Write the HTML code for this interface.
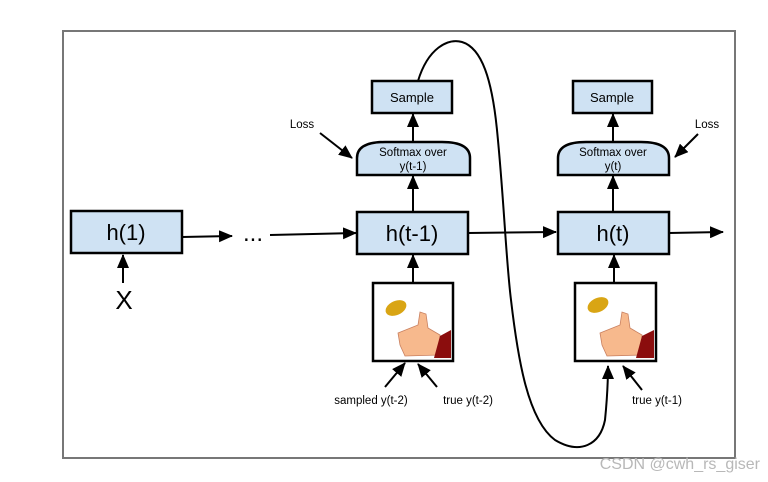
<!DOCTYPE html>
<html><head><style>html,body{margin:0;padding:0;background:#fff}svg{display:block}</style></head>
<body>
<svg width="768" height="482" xmlns="http://www.w3.org/2000/svg" font-family="Liberation Sans, Arial, sans-serif">
<defs><marker id="b" markerWidth="14" markerHeight="12" refX="13" refY="6" orient="auto" markerUnits="userSpaceOnUse"><path d="M0,0 L14,6 L0,12 z" fill="#000"/></marker></defs>
<rect x="63" y="31" width="672" height="427" fill="none" stroke="#777" stroke-width="2"/>
<g stroke="#000" stroke-width="2.5" fill="#cfe2f3">
<rect x="71" y="211" width="111" height="42"/>
<rect x="357" y="212" width="111" height="42"/>
<rect x="558" y="212" width="111" height="42"/>
<rect x="372" y="81" width="80" height="32"/>
<rect x="573" y="81" width="79" height="32"/>
<path d="M357,175 L357,158 Q357,142 385,142 L442,142 Q470,142 470,158 L470,175 Z"/>
<path d="M558,175 L558,158 Q558,142 586,142 L641,142 Q669,142 669,158 L669,175 Z"/>
</g>
<g font-size="22" text-anchor="middle" fill="#000">
<text x="126" y="240">h(1)</text><text x="412" y="241">h(t-1)</text><text x="613" y="241">h(t)</text>
<text x="124" y="309" font-size="26">X</text>
<text x="253" y="241" font-size="24">...</text>
</g>
<g font-size="13" text-anchor="middle" fill="#000">
<text x="412" y="102">Sample</text><text x="612" y="102">Sample</text>
<text x="413" y="156" font-size="11.5">Softmax over</text><text x="413" y="170" font-size="11.5">y(t-1)</text>
<text x="613" y="156" font-size="11.5">Softmax over</text><text x="613" y="170" font-size="11.5">y(t)</text>
<text x="302" y="128" font-size="11.5">Loss</text><text x="707" y="128" font-size="11.5">Loss</text>
<text x="371" y="404" font-size="11.5">sampled y(t-2)</text><text x="468" y="404" font-size="11.5">true y(t-2)</text>
<text x="657" y="404" font-size="11.5">true y(t-1)</text>
</g>
<g stroke="#000" stroke-width="2" fill="none" marker-end="url(#b)">
<line x1="182" y1="237" x2="232" y2="236"/>
<line x1="270" y1="235" x2="356" y2="233"/>
<line x1="468" y1="233" x2="556" y2="232"/>
<line x1="669" y1="233" x2="723" y2="232"/>
<line x1="123" y1="283" x2="123" y2="255"/>
<line x1="413" y1="212" x2="413" y2="176"/>
<line x1="413" y1="142" x2="413" y2="114"/>
<line x1="613" y1="212" x2="613" y2="176"/>
<line x1="613" y1="142" x2="613" y2="114"/>
<line x1="413" y1="283" x2="413" y2="255"/>
<line x1="614" y1="283" x2="614" y2="255"/>
<line x1="320" y1="133" x2="352" y2="158"/>
<line x1="698" y1="134" x2="675" y2="157"/>
<line x1="385" y1="387" x2="405" y2="363"/>
<line x1="437" y1="387" x2="418" y2="364"/>
<line x1="642" y1="390" x2="623" y2="366"/>
<path d="M418,81 C428,48 448,38 462,42 C482,48 492,80 497,130 C504,200 506,260 511,300 C518,360 528,420 555,440 C580,455 600,445 605,420 C607,400 608,385 608,366"/>
</g>
<g stroke="#000" stroke-width="2.5" fill="#fff">
<rect x="373" y="283" width="80" height="78"/>
<rect x="575" y="283" width="81" height="78"/>
</g>
<g>
<ellipse cx="396" cy="308" rx="11" ry="7" fill="#d9a514" transform="rotate(-25 396 308)"/>
<path d="M398,333 L418,325 L420,312 L426,314 L428,328 L440,335 L440,355 L405,356 L400,345 Z" fill="#f7b98d" stroke="#c98060" stroke-width="0.8"/>
<path d="M440,336 L451,330 L451,358 L434,358 Z" fill="#8b0d0d"/>
<ellipse cx="598" cy="305" rx="11" ry="7" fill="#d9a514" transform="rotate(-25 598 305)"/>
<path d="M600,333 L620,325 L622,312 L628,314 L630,328 L642,335 L642,355 L607,356 L602,345 Z" fill="#f7b98d" stroke="#c98060" stroke-width="0.8"/>
<path d="M642,336 L654,330 L654,358 L636,358 Z" fill="#8b0d0d"/>
</g>
<text x="760" y="469" text-anchor="end" font-size="16" fill="#b8b8b8">CSDN @cwh_rs_giser</text>
</svg>
</body></html>
